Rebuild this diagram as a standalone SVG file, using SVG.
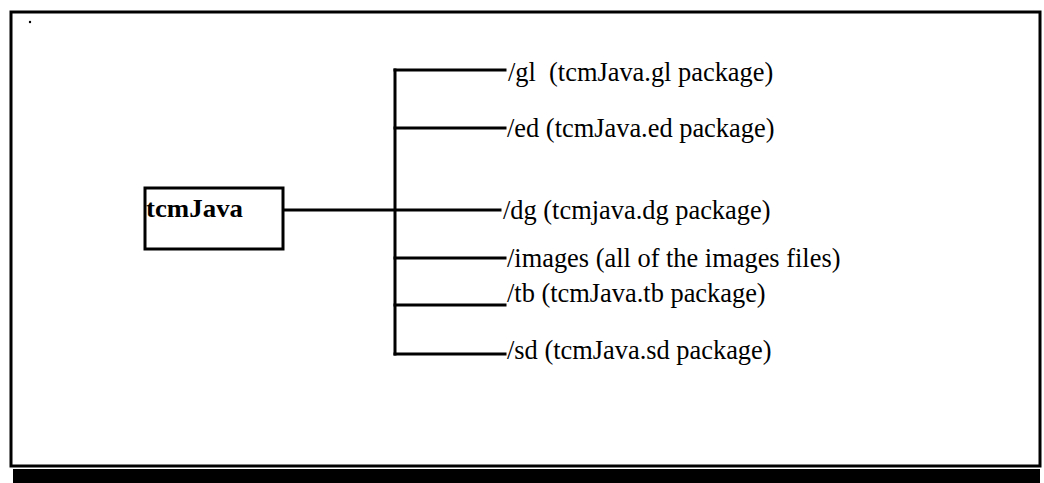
<svg xmlns="http://www.w3.org/2000/svg" width="1044" height="483" viewBox="0 0 1044 483">
<style>
.ln{stroke:#000;stroke-width:3;fill:none;stroke-linecap:square}
.lbl{font-family:"Liberation Serif","Times New Roman",serif;font-size:26.4px;fill:#000;white-space:pre}
.ttl{font-family:"Liberation Serif","Times New Roman",serif;font-size:26px;font-weight:bold;fill:#000}
</style>
<rect width="1044" height="483" fill="#fff"/>
<g id="frame">
<rect x="11" y="12" width="1029" height="454" fill="none" stroke="#000" stroke-width="3"/>
<rect x="13" y="469" width="1027" height="14" fill="#000"/>
<circle cx="30" cy="22" r="1.2" fill="#000"/>
</g>
<g id="connectors">
<path class="ln" d="M283 210 H500"/>
<path class="ln" d="M395 70 V354"/>
<path class="ln" d="M395 70 H505"/>
<path class="ln" d="M395 128 H505"/>
<path class="ln" d="M395 258 H505"/>
<path class="ln" d="M395 305 H505"/>
<path class="ln" d="M395 354 H505"/>
</g>
<g id="root">
<rect x="145" y="188" width="138" height="61" fill="#fff" stroke="#000" stroke-width="3"/>
<text class="ttl" x="146" y="217" textLength="97" lengthAdjust="spacingAndGlyphs">tcmJava</text>
</g>
<g id="gl"><text class="lbl" x="508" y="81" xml:space="preserve">/gl  (tcmJava.gl package)</text></g>
<g id="ed"><text class="lbl" x="507" y="137">/ed (tcmJava.ed package)</text></g>
<g id="dg"><text class="lbl" x="503" y="219">/dg (tcmjava.dg package)</text></g>
<g id="images"><text class="lbl" x="507" y="267">/images (all of the images files)</text></g>
<g id="tb"><text class="lbl" x="507" y="302">/tb (tcmJava.tb package)</text></g>
<g id="sd"><text class="lbl" x="507" y="359">/sd (tcmJava.sd package)</text></g>
</svg>
